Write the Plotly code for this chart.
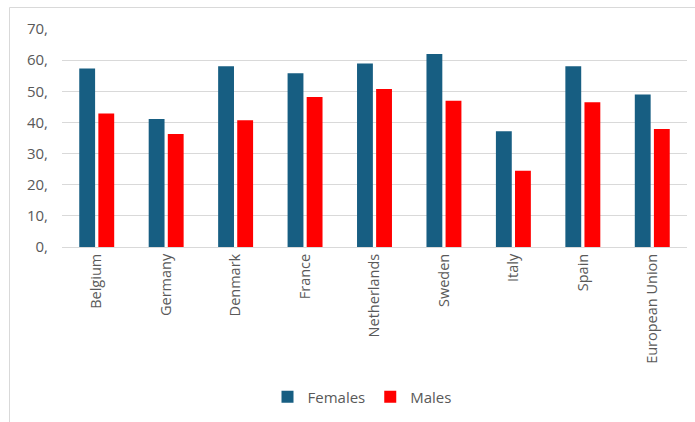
import plotly.graph_objects as go

countries = ["Belgium", "Germany", "Denmark", "France", "Netherlands",
             "Sweden", "Italy", "Spain", "European Union"]
females = [57.3, 41.1, 58.0, 55.8, 58.9, 62.0, 37.2, 58.0, 49.0]
males = [42.9, 36.3, 40.7, 48.2, 50.7, 47.0, 24.5, 46.5, 37.9]
y_ticks = [0, 10, 20, 30, 40, 50, 60, 70]
y_tick_labels = ["0,", "10,", "20,", "30,", "40,", "50,", "60,", "70,"]

FONT = "Open Sans, Liberation Sans, Arial, sans-serif"
GREY_TEXT = "#595959"
GRID = "#d9d9d9"

fig = go.Figure()
fig.add_trace(go.Bar(name="Females", x=countries, y=females,
                     marker=dict(color="#175e82", line=dict(width=0))))
fig.add_trace(go.Bar(name="Males", x=countries, y=males,
                     marker=dict(color="#ff0000", line=dict(width=0))))

L, R, T, B = 62, 8, 29, 175
W, H = 695, 422
pw, ph = W - L - R, H - T - B

# outer chart frame (light grey), running off the right and bottom edges
fig.add_shape(type="rect", xref="paper", yref="paper",
              x0=(9.5 - L) / pw, x1=(W + 10 - L) / pw,
              y0=-(H + 10 - T - ph) / ph, y1=(ph + T - 7.5) / ph,
              line=dict(color=GRID, width=1), fillcolor="rgba(0,0,0,0)",
              layer="below")

fig.update_layout(
    width=W, height=H,
    margin=dict(l=L, r=R, t=T, b=B, autoexpand=False),
    paper_bgcolor="white", plot_bgcolor="white",
    barmode="group", bargap=0.45, bargroupgap=0.17,
    font=dict(family=FONT, size=15, color=GREY_TEXT),
    showlegend=True,
    legend=dict(orientation="h", x=0.48, xanchor="center",
                y=(T + ph - 397) / ph, yanchor="middle",
                font=dict(size=15, color=GREY_TEXT),
                itemwidth=30, traceorder="normal"),
    xaxis=dict(tickangle=-90, showgrid=False, showline=True,
               linecolor=GRID, linewidth=1, ticks="",
               tickfont=dict(size=14.5, color=GREY_TEXT)),
    yaxis=dict(range=[0, 70], tickvals=y_ticks, ticktext=y_tick_labels,
               showgrid=True, gridcolor=GRID, gridwidth=1,
               zeroline=False, showline=False, ticks="",
               ticklabelstandoff=13,
               tickfont=dict(size=15, color=GREY_TEXT)),
)

fig.write_html("out.html")
